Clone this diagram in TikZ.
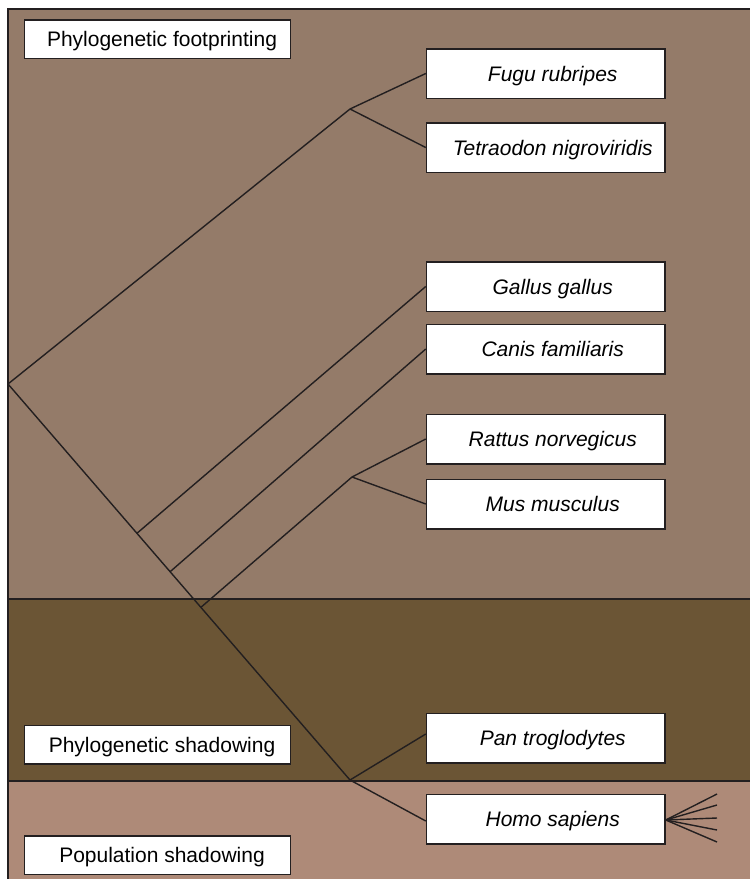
\documentclass[tikz,border=0pt]{standalone}
\usepackage{fontspec}
\setmainfont{Liberation Sans}
\usetikzlibrary{calc}
\definecolor{footc}{RGB}{148,123,105}
\definecolor{shadc}{RGB}{107,85,53}
\definecolor{popc}{RGB}{174,138,120}
\definecolor{ink}{RGB}{35,31,32}
\begin{document}
\begin{tikzpicture}[x=1pt,y=-1pt,
  species/.style={draw=ink, fill=white, line width=1.5pt, minimum width=238.5pt, minimum height=49.5pt,
    inner sep=0pt, text height=15pt, text depth=0pt, anchor=west,
    font=\fontsize{21}{25}\selectfont\itshape},
  region/.style={draw=ink, fill=white, line width=1.5pt, minimum width=266pt, minimum height=38.5pt,
    inner sep=0pt, text height=15pt, text depth=0pt, anchor=west,
    font=\fontsize{21}{25}\selectfont},
  branch/.style={draw=ink, line width=1.4pt},
  band/.style={draw=ink, line width=1.5pt}]
\useasboundingbox (0,0) rectangle (750,879);
\clip (0,0) rectangle (750,879);
% bands
\fill[footc] (8,9) rectangle (752,599);
\fill[shadc] (8,599) rectangle (752,781);
\fill[popc] (8,781) rectangle (752,881);
\draw[band] (8,881) -- (8,9) -- (752,9);
\draw[band] (8,599) -- (752,599);
\draw[band] (8,781) -- (752,781);
% region labels
\node[region] (rfoot) at (23.75,39) {\hspace*{9pt}Phylogenetic footprinting};
\node[region] (rshad) at (23.75,744.5) {\hspace*{9pt}Phylogenetic shadowing};
\node[region] (rpop) at (23.75,855) {\hspace*{9pt}Population shadowing};
% species boxes
\node[species] (fugu) at (425.75,73.5) {\hspace*{14pt}Fugu rubripes};
\node[species] (tetra) at (425.75,147.5) {\hspace*{14pt}Tetraodon nigroviridis};
\node[species] (gallus) at (425.75,286.5) {\hspace*{14pt}Gallus gallus};
\node[species] (canis) at (425.75,349) {\hspace*{14pt}Canis familiaris};
\node[species] (rattus) at (425.75,439) {\hspace*{14pt}Rattus norvegicus};
\node[species] (mus) at (425.75,504) {\hspace*{14pt}Mus musculus};
\node[species] (pan) at (425.75,738) {\hspace*{14pt}Pan troglodytes};
\node[species] (homo) at (425.75,819) {\hspace*{14pt}Homo sapiens};
% tree nodes
\coordinate (root) at (8,384);
\coordinate (nfish) at (350,109);
\coordinate (nhom) at (350,780);
\coordinate (ngal) at ($(root)!0.377!(nhom)$);
\coordinate (ncan) at ($(root)!0.474!(nhom)$);
\coordinate (nrod) at ($(root)!0.564!(nhom)$);
\coordinate (nrm) at (352,477);
% branches
\draw[branch] (root) -- (nfish);
\draw[branch] (nfish) -- (fugu.west);
\draw[branch] (nfish) -- (tetra.west);
\draw[branch] (root) -- (nhom);
\draw[branch] (ngal) -- (gallus.west);
\draw[branch] (ncan) -- (canis.west);
\draw[branch] (nrod) -- (nrm);
\draw[branch] (nrm) -- (rattus.west);
\draw[branch] (nrm) -- (mus.west);
\draw[branch] (nhom) -- ([yshift=4pt]pan.west);
\draw[branch] (nhom) -- ([yshift=-2pt]homo.west);
% population fan
\coordinate (f1) at (717,794);
\coordinate (f2) at (717,805);
\coordinate (f3) at (717,818);
\coordinate (f4) at (717,830);
\coordinate (f5) at (717,842);
\foreach \f in {f1,f2,f3,f4,f5} \draw[branch] ([yshift=-1pt]homo.east) -- (\f);
\end{tikzpicture}
\end{document}
